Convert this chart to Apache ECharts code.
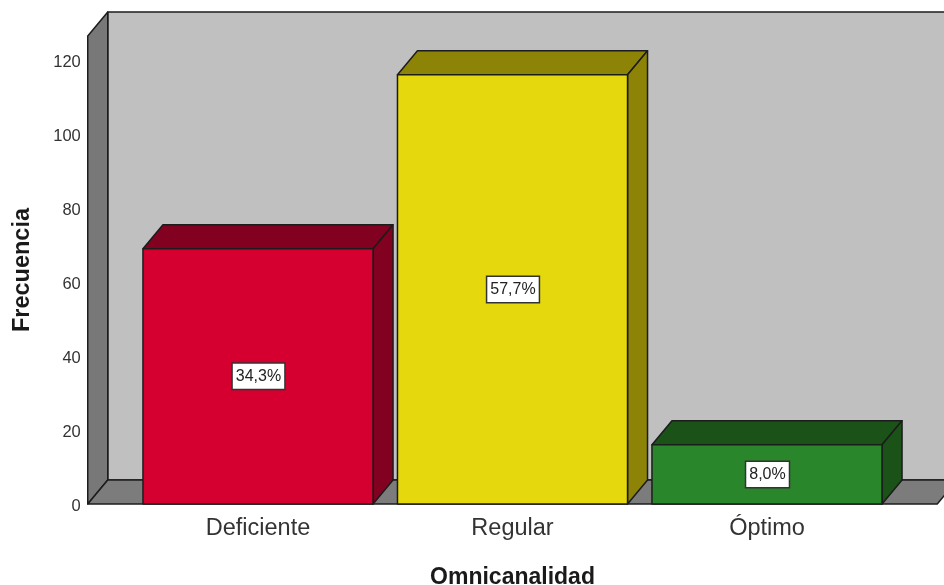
<!DOCTYPE html>
<html>
<head>
<meta charset="utf-8">
<style>html,body{margin:0;padding:0;background:#fff}#c{width:944px;height:585px}</style>
<script src="https://cdn.jsdelivr.net/npm/echarts@6/dist/echarts.min.js"></script>
</head>
<body>
<div id="c"></div>
<script>
const categories = ['Deficiente', 'Regular', 'Óptimo'];
const frequencies = [69, 116, 16];
const percentLabels = ['34,3%', '57,7%', '8,0%'];
const axisTop = 126.5;
const yTickStep = 20;
const frontColors = ['#d60030', '#e5d80d', '#2a862b'];
const sideColors = ['#820020', '#8c8307', '#1a5218'];

const depthX = 20, depthY = 24, barRatio = 0.904, wallPad = 43;
const edge = '#1c1c1c', font = '"Liberation Sans", Arial, sans-serif';
const poly = (pts, fill, w) => ({type: 'polygon', shape: {points: pts},
  style: {fill, stroke: edge, lineWidth: w || 1.5, lineJoin: 'round'}});

function renderWalls(params, api) {
  const band = api.size([1, 0])[0];
  const p0 = api.coord([0, 0]);
  const p1 = api.coord([categories.length - 1, axisTop]);
  const l = p0[0] - band / 2 - wallPad, r = p1[0] + band / 2 + wallPad;
  const b = p0[1], t = p1[1];
  return {type: 'group', children: [
    poly([[l + depthX, t - depthY], [r + depthX, t - depthY], [r + depthX, b - depthY], [l + depthX, b - depthY]], '#c0c0c0'),
    poly([[l, b], [l, t], [l + depthX, t - depthY], [l + depthX, b - depthY]], '#787878'),
    poly([[l, b], [l + depthX, b - depthY], [r + depthX, b - depthY], [r, b]], '#7c7c7c')
  ]};
}

function renderBar(params, api) {
  const i = params.dataIndex;
  const band = api.size([1, 0])[0];
  const w = band * barRatio;
  const top = api.coord([api.value(0), api.value(1)]);
  const base = api.coord([api.value(0), 0]);
  const l = top[0] - w / 2, r = top[0] + w / 2, t = top[1], b = base[1];
  return {type: 'group', children: [
    poly([[l, t], [l + depthX, t - depthY], [r + depthX, t - depthY], [r, t]], sideColors[i]),
    poly([[r, t], [r + depthX, t - depthY], [r + depthX, b - depthY], [r, b]], sideColors[i]),
    poly([[l, t], [r, t], [r, b], [l, b]], frontColors[i]),
    {type: 'text', z2: 10, style: {
      text: percentLabels[i], x: top[0] + 0.5, y: (t + b) / 2, align: 'center', verticalAlign: 'middle',
      font: '16px ' + font, fill: '#222', backgroundColor: '#fff', borderColor: '#333', borderWidth: 1.5,
      padding: [5, 3, 4, 3]
    }}
  ]};
}

const chart = echarts.init(document.getElementById('c'), null, {renderer: 'canvas'});
chart.setOption({
  animation: false,
  backgroundColor: '#fff',
  grid: {left: 130.75, width: 763.5, top: 36, height: 468, outerBoundsMode: 'none', containLabel: false},
  xAxis: {
    type: 'category', data: categories,
    name: 'Omnicanalidad', nameLocation: 'middle', nameGap: 62,
    nameTextStyle: {fontFamily: font, fontSize: 23, fontWeight: 'bold', color: '#1a1a1a'},
    axisLine: {show: false}, axisTick: {show: false},
    axisLabel: {fontFamily: font, fontSize: 23.5, color: '#333', margin: 13}
  },
  yAxis: {
    type: 'value', min: 0, max: axisTop, interval: yTickStep,
    name: 'Frecuencia', nameLocation: 'middle', nameGap: 96,
    nameTextStyle: {fontFamily: font, fontSize: 23.5, fontWeight: 'bold', color: '#1a1a1a'},
    axisLine: {show: false}, axisTick: {show: false}, splitLine: {show: false},
    axisLabel: {
      margin: 50, showMaxLabel: false,
      formatter: '{v|{value}}',
      rich: {v: {fontFamily: font, fontSize: 16.5, color: '#333', padding: [4, 0, 0, 0]}}
    }
  },
  series: [
    {type: 'custom', renderItem: renderWalls, data: [[0, 0]], encode: {x: 0, y: 1}, silent: true, z: 1},
    {type: 'custom', renderItem: renderBar, data: categories.map((c, i) => [i, frequencies[i]]), encode: {x: 0, y: 1}, z: 2}
  ]
});
</script>
</body>
</html>
